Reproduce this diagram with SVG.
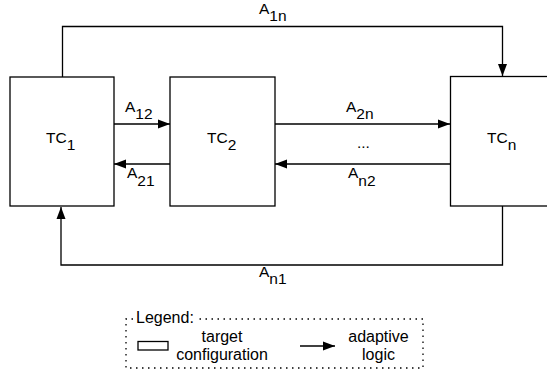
<svg xmlns="http://www.w3.org/2000/svg" width="547" height="373" viewBox="0 0 547 373">
<defs>
<marker id="ah" markerUnits="userSpaceOnUse" markerWidth="13" markerHeight="10" refX="12" refY="5" orient="auto">
<path d="M0,0.5 L12,5 L0,9.5 Z" fill="#000"/>
</marker>
<style>
.box{fill:#fff;stroke:#000;stroke-width:1.3}
.ln{fill:none;stroke:#000;stroke-width:1.3}
text{font-family:"Liberation Sans",Arial,Helvetica,sans-serif;font-size:15.5px;fill:#000}
.c{text-anchor:middle}
.lt{font-size:16px}
.leg{fill:none;stroke:#000;stroke-width:1.3;stroke-dasharray:1.5 4.5}
</style>
</defs>
<rect width="547" height="373" fill="#fff"/>
<g id="connectors">
<path class="ln" d="M62.5,77 V26.5 H502.5 V76" marker-end="url(#ah)"/>
<path class="ln" d="M502.5,206 V265 H61 V207" marker-end="url(#ah)"/>
<path class="ln" d="M114,124 H170" marker-end="url(#ah)"/>
<path class="ln" d="M170,164 H114" marker-end="url(#ah)"/>
<path class="ln" d="M275,124 H450" marker-end="url(#ah)"/>
<path class="ln" d="M450,164 H275" marker-end="url(#ah)"/>
<text x="259" y="14">A<tspan dy="7">1n</tspan></text>
<text x="125" y="112">A<tspan dy="7">12</tspan></text>
<text x="127" y="178">A<tspan dy="8">21</tspan></text>
<text x="346" y="112">A<tspan dy="7">2n</tspan></text>
<text x="357" y="148">...</text>
<text x="348" y="178">A<tspan dy="8">n2</tspan></text>
<text x="259" y="277">A<tspan dy="7">n1</tspan></text>
</g>
<g id="tc1">
<rect class="box" x="10" y="77" width="104" height="129"/>
<text x="46" y="143">TC<tspan dy="7">1</tspan></text>
</g>
<g id="tc2">
<rect class="box" x="170" y="77" width="105" height="129"/>
<text x="207" y="143">TC<tspan dy="7">2</tspan></text>
</g>
<g id="tcn">
<rect class="box" x="450.5" y="76.5" width="110" height="129.5"/>
<text x="487" y="143">TC<tspan dy="7">n</tspan></text>
</g>
<g id="legend">
<path class="leg" d="M133,319 H126 V368 H423 V319 H196"/>
<text class="lt" x="136" y="323">Legend:</text>
<rect class="box" x="138" y="341.5" width="30" height="8.5" stroke-width="1.2"/>
<text class="c lt" x="222" y="342">target</text>
<text class="c lt" x="222" y="360">configuration</text>
<path class="ln" d="M300,346 H335" marker-end="url(#ah)"/>
<text class="c lt" x="378.5" y="342">adaptive</text>
<text class="c lt" x="378.5" y="360">logic</text>
</g>
</svg>
